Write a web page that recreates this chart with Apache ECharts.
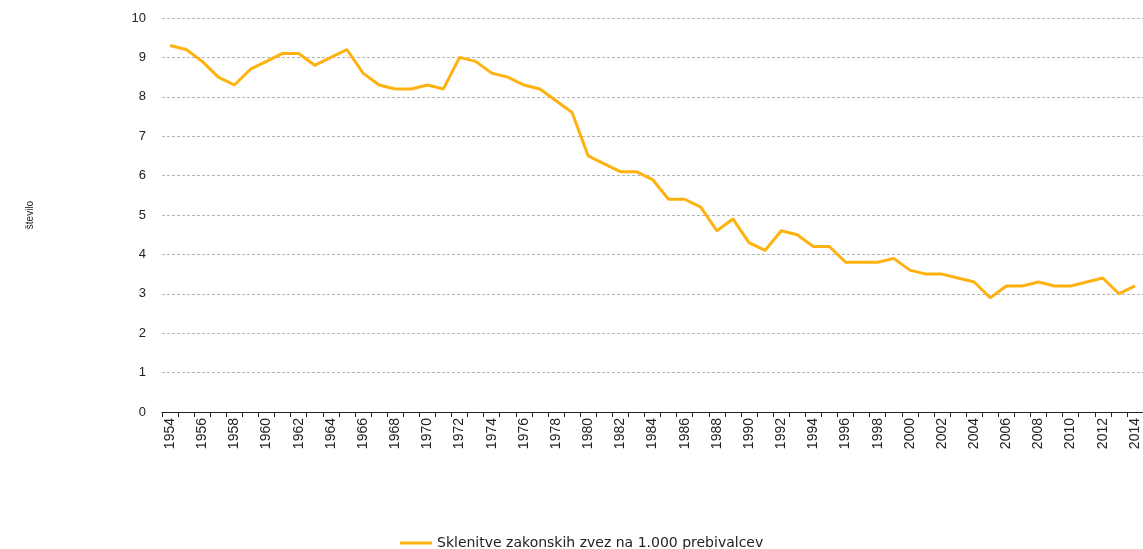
<!DOCTYPE html>
<html>
<head>
<meta charset="utf-8">
<script src="https://cdn.jsdelivr.net/npm/echarts@6/dist/echarts.min.js"></script>
<style>
  html, body { margin: 0; padding: 0; background: #fff; }
  #main { width: 1143px; height: 549px; }
</style>
</head>
<body>
<div id="main"></div>
<script>
// years 1954..2014
var years = [];
for (var y = 1954; y <= 2014; y++) years.push(String(y));

var marriages = [
    9.3, 9.2, 8.9, 8.5, 8.3, 8.7, 8.9, 9.1, 9.1, 8.8,   // 1954-1963
    9.0, 9.2, 8.6, 8.3, 8.2, 8.2, 8.3, 8.2, 9.0, 8.9,   // 1964-1973
    8.6, 8.5, 8.3, 8.2, 7.9, 7.6, 6.5, 6.3, 6.1, 6.1,   // 1974-1983
    5.9, 5.4, 5.4, 5.2, 4.6, 4.9, 4.3, 4.1, 4.6, 4.5,   // 1984-1993
    4.2, 4.2, 3.8, 3.8, 3.8, 3.9, 3.6, 3.5, 3.5, 3.4,   // 1994-2003
    3.3, 2.9, 3.2, 3.2, 3.3, 3.2, 3.2, 3.3, 3.4, 3.0,   // 2004-2013
    3.2                                                 // 2014
];

var seriesName = 'Sklenitve zakonskih zvez na 1.000 prebivalcev';
var yTicks = { min: 0, max: 10, interval: 1 };

var myChart = echarts.init(document.getElementById('main'));
var font = 'Liberation Sans, Arial, sans-serif';

var option = {
    animation: false,
    textStyle: { fontFamily: font },
    grid: {
        left: 162,
        right: -9,
        top: 18,
        bottom: 137
    },
    legend: {
        data: [seriesName],
        left: 395,
        top: 531,
        itemWidth: 32,
        itemHeight: 3,
        itemGap: 5,
        icon: 'rect',
        textStyle: { fontFamily: 'DejaVu Sans, sans-serif', fontSize: 14, color: '#222' }
    },
    xAxis: {
        type: 'category',
        data: years,
        boundaryGap: true,
        axisLine: { lineStyle: { color: '#222', width: 1 } },
        axisTick: { show: true, interval: 0, length: 5, lineStyle: { color: '#222' } },
        axisLabel: {
            interval: 1,
            rotate: 90,
            margin: 6,
            fontSize: 14,
            color: '#222',
            fontFamily: font
        },
        splitLine: { show: false }
    },
    yAxis: {
        type: 'value',
        min: yTicks.min,
        max: yTicks.max,
        interval: yTicks.interval,
        name: 'število',
        nameLocation: 'middle',
        nameGap: 127,
        nameTextStyle: { fontSize: 10, color: '#222', fontFamily: font },
        axisLine: { show: false },
        axisTick: { show: false },
        axisLabel: { fontSize: 13, color: '#222', margin: 16, fontFamily: font },
        splitLine: { lineStyle: { color: '#b4b4b4', type: [3, 2], width: 1 } }
    },
    series: [
        {
            name: seriesName,
            type: 'line',
            data: marriages,
            symbol: 'none',
            lineStyle: { color: '#ffb20f', width: 3 },
            itemStyle: { color: '#ffb20f' }
        }
    ]
};
myChart.setOption(option);
</script>
</body>
</html>
